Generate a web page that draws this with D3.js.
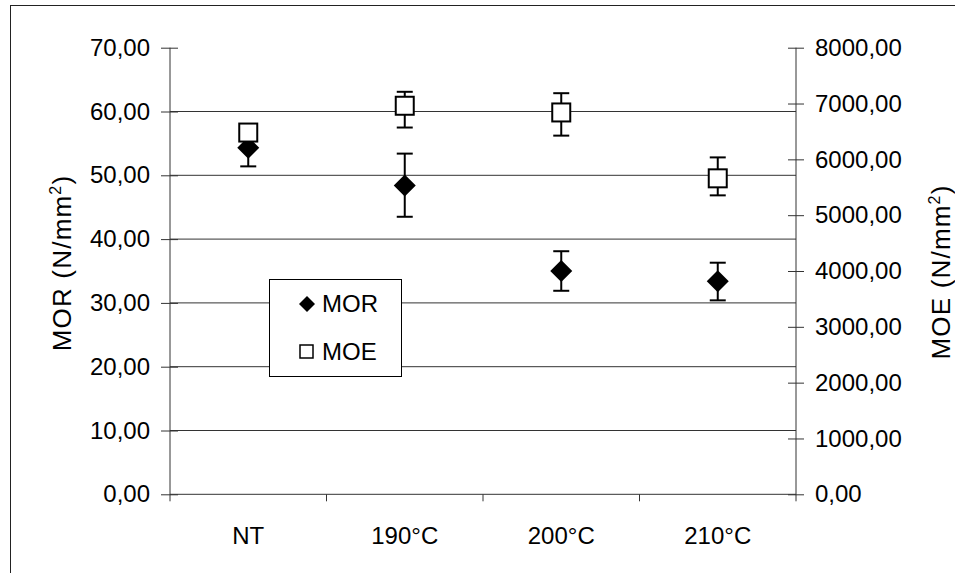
<!DOCTYPE html>
<html>
<head>
<meta charset="utf-8">
<script src="https://cdn.jsdelivr.net/npm/d3@7/dist/d3.min.js"></script>
<style>
  body { margin: 0; background: #fff; }
  text { font-family: "Liberation Sans", Arial, sans-serif; fill: #000; }
</style>
</head>
<body>
<svg id="chart" width="955" height="573"></svg>
<script>
// ── Data ──
const categories = ["NT", "190°C", "200°C", "210°C"];

// MOR (left axis, N/mm²)
const morValues = [54.3, 48.4, 35.0, 33.4];
const morPlus   = [2.9, 5.0, 3.1, 2.9];
const morMinus  = [2.9, 4.9, 3.1, 3.0];

// MOE (right axis, N/mm²)
const moeValues = [6480, 6960, 6840, 5660];
const moePlus   = [120, 250, 345, 375];
const moeMinus  = [120, 390, 415, 305];

const leftTicks  = [0, 10, 20, 30, 40, 50, 60, 70];
const rightTicks = [0, 1000, 2000, 3000, 4000, 5000, 6000, 7000, 8000];

// ── Layout ──
const plot = { left: 170, right: 796, top: 47.7, bottom: 494.3 };
const fmt = v => d3.format(".2f")(v).replace(".", ",");

const svg = d3.select("#chart");

// outer frame (runs off the right/bottom edge like the original)
svg.append("rect")
    .attr("x", 10.5).attr("y", 5.5)
    .attr("width", 1000).attr("height", 1000)
    .style("fill", "none").style("stroke", "#222").style("stroke-width", 1);

const x = d3.scaleBand().domain(categories).range([plot.left, plot.right]).padding(0);
const yL = d3.scaleLinear().domain([0, 70]).range([plot.bottom, plot.top]);
const yR = d3.scaleLinear().domain([0, 8000]).range([plot.bottom, plot.top]);

// ── Gridlines ──
svg.append("g").selectAll("line")
    .data(leftTicks.filter(d => d > 0 && d < 70))
    .join("line")
    .attr("x1", plot.left).attr("x2", plot.right)
    .attr("y1", d => yL(d)).attr("y2", d => yL(d))
    .style("stroke", "#333").style("stroke-width", 1);

// ── Left axis ──
const gL = svg.append("g")
    .attr("transform", `translate(${plot.left},0)`)
    .call(d3.axisLeft(yL).tickValues(leftTicks).tickSize(9).tickPadding(11).tickFormat(fmt));
gL.selectAll(".tick").append("line").attr("x2", 8).attr("stroke", "currentColor");
gL.select(".domain").attr("d", `M0,${plot.top}V${plot.bottom + 7}`);
gL.selectAll("text").style("font-size", "24px").style("font-family", "Liberation Sans, Arial, sans-serif");
gL.selectAll("line, path").style("stroke", "#333");

// ── Right axis ──
const gR = svg.append("g")
    .attr("transform", `translate(${plot.right},0)`)
    .call(d3.axisRight(yR).tickValues(rightTicks).tickSize(8).tickPadding(11).tickFormat(fmt));
gR.selectAll(".tick").append("line").attr("x2", -8).attr("stroke", "currentColor");
gR.select(".domain").attr("d", `M0,${plot.top}V${plot.bottom + 7}`);
gR.selectAll("text").style("font-size", "24px").style("font-family", "Liberation Sans, Arial, sans-serif");
gR.selectAll("line, path").style("stroke", "#333");

// ── Bottom axis: line, boundary ticks, category labels ──
svg.append("line")
    .attr("x1", plot.left).attr("x2", plot.right)
    .attr("y1", plot.bottom).attr("y2", plot.bottom)
    .style("stroke", "#333");
svg.append("g").selectAll("line")
    .data(categories.slice(1))
    .join("line")
    .attr("x1", d => x(d)).attr("x2", d => x(d))
    .attr("y1", plot.bottom).attr("y2", plot.bottom + 7)
    .style("stroke", "#333");
svg.append("g").selectAll("text")
    .data(categories)
    .join("text")
    .attr("x", d => x(d) + x.bandwidth() / 2)
    .attr("y", 544)
    .attr("text-anchor", "middle")
    .style("font-size", "24px")
    .text(d => d);

// ── Axis titles ──
function axisTitle(label, cx, cy) {
    const t = svg.append("text")
        .attr("transform", `translate(${cx},${cy}) rotate(-90)`)
        .attr("text-anchor", "middle")
        .style("font-size", "26px")
        .style("letter-spacing", "1.2px");
    t.append("tspan").text(label + " (N/mm");
    t.append("tspan").attr("dy", -10).style("font-size", "16px").text("2");
    t.append("tspan").attr("dy", 10).text(")");
}
axisTitle("MOR", 71, 263);
axisTitle("MOE", 950, 272);

// ── Error bars + markers ──
const cx = c => x(c) + x.bandwidth() / 2;

function errorBars(values, plus, minus, y) {
    const g = svg.append("g");
    categories.forEach((c, i) => {
        const top = y(values[i] + plus[i]);
        const bot = y(values[i] - minus[i]);
        g.append("line").attr("x1", cx(c)).attr("x2", cx(c)).attr("y1", top).attr("y2", bot)
            .style("stroke", "#000").style("stroke-width", 2);
        [top, bot].forEach(yy => {
            g.append("line").attr("x1", cx(c) - 8).attr("x2", cx(c) + 8).attr("y1", yy).attr("y2", yy)
                .style("stroke", "#000").style("stroke-width", 2);
        });
    });
}

const diamond = s => `M0,${-s}L${s},0L0,${s}L${-s},0Z`;

// MOR first, MOE on top (square hides the diamond's top at NT)
errorBars(morValues, morPlus, morMinus, yL);
svg.append("g").selectAll("path")
    .data(categories)
    .join("path")
    .attr("transform", (c, i) => `translate(${cx(c)},${yL(morValues[i])})`)
    .attr("d", diamond(11))
    .style("fill", "#000");

errorBars(moeValues, moePlus, moeMinus, yR);
svg.append("g").selectAll("rect")
    .data(categories)
    .join("rect")
    .attr("x", c => cx(c) - 9)
    .attr("y", (c, i) => yR(moeValues[i]) - 9)
    .attr("width", 18).attr("height", 18)
    .style("fill", "#fff").style("stroke", "#000").style("stroke-width", 2);

// ── Legend ──
const lg = svg.append("g");
lg.append("rect")
    .attr("x", 269.5).attr("y", 279.5).attr("width", 132).attr("height", 97)
    .style("fill", "#fff").style("stroke", "#000").style("stroke-width", 1);
lg.append("path")
    .attr("transform", "translate(307,304)")
    .attr("d", diamond(8))
    .style("fill", "#000");
lg.append("text").attr("x", 322).attr("y", 312).style("font-size", "24px").text("MOR");
lg.append("rect")
    .attr("x", 300).attr("y", 345).attr("width", 13).attr("height", 13)
    .style("fill", "#fff").style("stroke", "#000").style("stroke-width", 1.5);
lg.append("text").attr("x", 322).attr("y", 360).style("font-size", "24px").text("MOE");
</script>
</body>
</html>
